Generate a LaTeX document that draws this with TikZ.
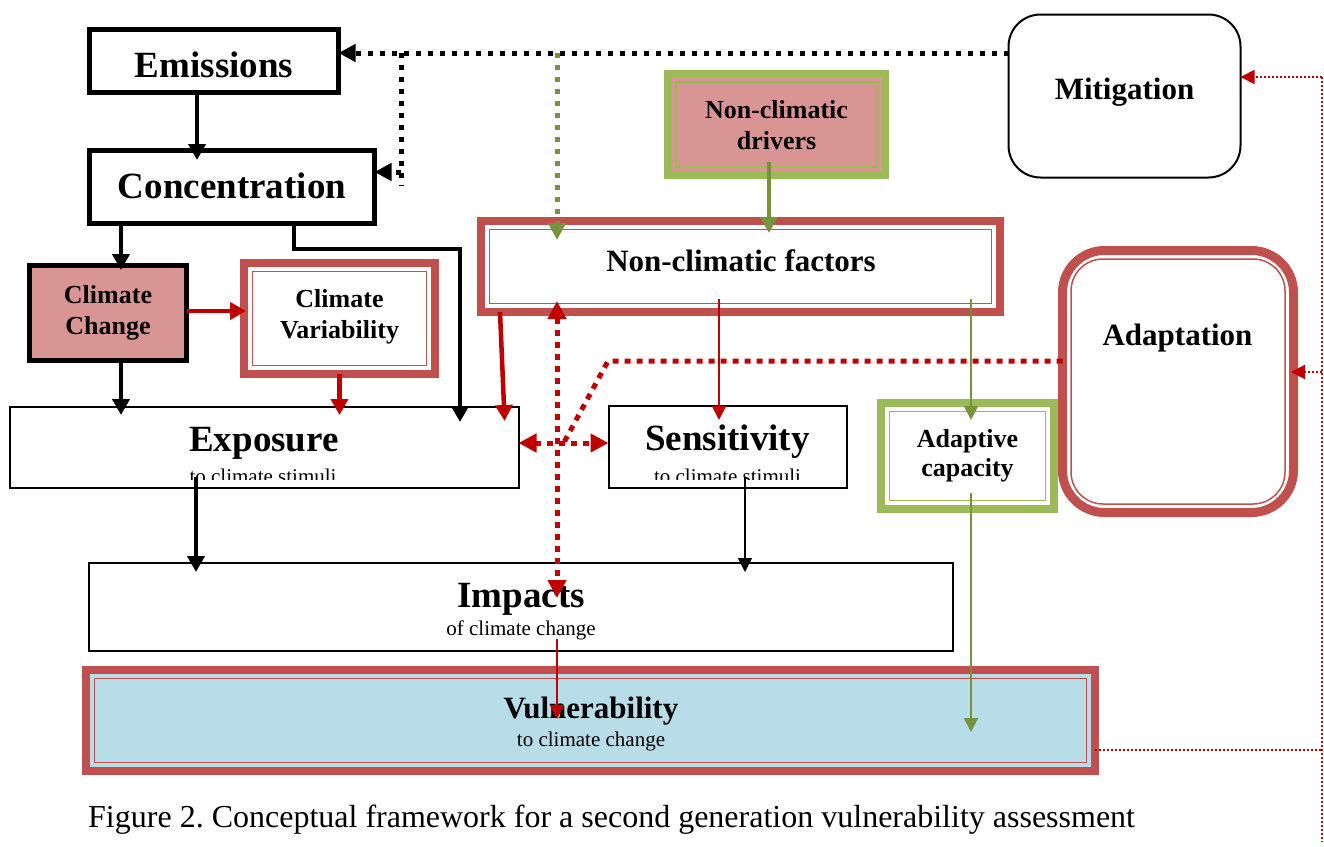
\documentclass[tikz,border=0pt]{standalone}
\usepackage{fontspec}
\setmainfont{Liberation Serif}
\usetikzlibrary{arrows.meta,calc}
\definecolor{accred}{HTML}{C0504D}
\definecolor{arrred}{HTML}{C00000}
\definecolor{pinkf}{HTML}{D99594}
\definecolor{grn}{HTML}{9BBB59}
\definecolor{olive}{HTML}{77933C}
\definecolor{lblue}{HTML}{B7DDE8}
\tikzset{
  bx/.style={rectangle, inner sep=0pt, outer sep=0pt},
  blkbox/.style={bx, draw=black, line width=#1},
  redbox/.style={bx, draw=accred, line width=8pt},
  grnbox/.style={bx, draw=grn, line width=7pt},
  big/.style={font=\fontsize{37}{40}\selectfont\bfseries, anchor=base, inner sep=0pt},
  mid/.style={font=\fontsize{31}{34}\selectfont\bfseries, anchor=base, inner sep=0pt},
  sml/.style={font=\fontsize{26}{29}\selectfont\bfseries, anchor=base, inner sep=0pt},
  sub/.style={font=\fontsize{21}{24}\selectfont, anchor=base, inner sep=0pt},
  tipk/.style={-{Triangle[length=14pt,width=14pt]}},
  tipb/.style={-{Triangle[length=16pt,width=17pt]}},
  tipd/.style={{Triangle[length=18pt,width=18pt]}-{Triangle[length=18pt,width=18pt]}},
  tipe/.style={-{Triangle[length=17pt,width=17pt]}},
  blk4/.style={draw=black, line width=4.5pt, tipb},
  blkthin/.style={draw=black, line width=1.5pt, tipk},
  red4/.style={draw=arrred, line width=4.5pt, tipb},
  redthin/.style={draw=arrred, line width=2pt, tipk},
  grn4/.style={draw=olive, line width=4.5pt, tipb},
  grnthin/.style={draw=olive, line width=2pt, tipk},
  bdot/.style={draw=black, line width=5pt, dash pattern=on 5pt off 7pt},
  rdot/.style={draw=arrred, line width=5pt, dash pattern=on 6pt off 6pt},
  gdot/.style={draw=olive, line width=5pt, dash pattern=on 5pt off 7pt},
  rfine/.style={draw=arrred, line width=2pt, dash pattern=on 2pt off 2pt},
}
\begin{document}
\begin{tikzpicture}[x=1pt,y=-1pt]
\useasboundingbox[fill=white] (0,0) rectangle (1324,846);

% ---------- boxes ----------
\node[blkbox=5pt, minimum width=249pt, minimum height=63pt] (emis) at (214,61) {};
\node[blkbox=5pt, minimum width=285pt, minimum height=73pt] (conc) at (232,187) {};
\node[blkbox=5pt, fill=pinkf, minimum width=157pt, minimum height=95pt] (cc) at (108,313) {};
\node[redbox, fill=white, minimum width=191pt, minimum height=111pt] (cv) at (339.5,318.5) {};
\draw[accred, line width=1.5pt] ([shift={(8.5pt,8.5pt)}]cv.south west) rectangle ([shift={(-8.5pt,-8.5pt)}]cv.north east);
\node[grnbox, fill=pinkf, minimum width=218pt, minimum height=102pt] (drv) at (776.5,124.5) {};
\draw[grn, line width=1.5pt] ([shift={(8.5pt,8.5pt)}]drv.south west) rectangle ([shift={(-8.5pt,-8.5pt)}]drv.north east);
\node[redbox, fill=white, minimum width=519pt, minimum height=91pt] (ncf) at (740.5,266.5) {};
\draw[accred, line width=1.5pt] ([shift={(8.5pt,8.5pt)}]ncf.south west) rectangle ([shift={(-8.5pt,-8.5pt)}]ncf.north east);
\node[blkbox=2pt, rounded corners=32pt, minimum width=232pt, minimum height=163pt] (mitig) at (1124.5,96) {};
\node[bx, draw=accred, line width=9pt, rounded corners=42pt, fill=white, minimum width=231pt, minimum height=262pt] (adapt) at (1178,381.5) {};
\draw[accred, line width=1.5pt, rounded corners=32pt] ([shift={(8.5pt,8.5pt)}]adapt.south west) rectangle ([shift={(-8.5pt,-8.5pt)}]adapt.north east);
\node[blkbox=2pt, minimum width=509pt, minimum height=81pt] (expo) at (264,447) {};
\node[blkbox=2pt, minimum width=238pt, minimum height=82pt] (sens) at (727.5,446.5) {};
\node[grnbox, line width=8pt, fill=white, minimum width=173pt, minimum height=106pt] (ac) at (967.5,456) {};
\draw[grn, line width=1.5pt] ([shift={(8.5pt,8.5pt)}]ac.south west) rectangle ([shift={(-8.5pt,-8.5pt)}]ac.north east);
\node[blkbox=2pt, minimum width=864pt, minimum height=88pt] (imp) at (520.5,606.5) {};
\node[redbox, fill=lblue, minimum width=1009pt, minimum height=101pt] (vul) at (590.5,720.5) {};
\draw[accred, line width=1.5pt] ([shift={(8.5pt,8.5pt)}]vul.south west) rectangle ([shift={(-8.5pt,-8.5pt)}]vul.north east);

% ---------- texts ----------
\node[big] (emisT) at (214,77) {Emissions};
\node[big] (concT) at (232,198) {Concentration};
\node[sml] (ccT1) at (108,303) {Climate};
\node[sml] (ccT2) at (108,334) {Change};
\node[sml] (cvT1) at (339.5,307) {Climate};
\node[sml] (cvT2) at (339.5,338) {Variability};
\node[sml] (drvT1) at (776.5,118) {Non-climatic};
\node[sml] (drvT2) at (776.5,149) {drivers};
\node[mid] (ncfT) at (741,271) {Non-climatic factors};
\node[mid] (mitT) at (1124.5,99) {Mitigation};
\node[mid] (adaT) at (1177.5,345) {Adaptation};
\node[big] (expT) at (264,451) {Exposure};
\node[big] (senT) at (727.5,450) {Sensitivity};
\begin{scope}
\clip (9,400) rectangle (847,479);
\node[sub] (expS) at (263,483) {to climate stimuli};
\node[sub] (senS) at (727.5,483) {to climate stimuli};
\end{scope}
\node[sml] (acT1) at (967.5,447) {Adaptive};
\node[sml] (acT2) at (967.5,476) {capacity};
\node[big] (impT) at (521,607) {Impacts};
\node[sub] (impS) at (521,635) {of climate change};
\node[mid] (vulT) at (591,718) {Vulnerability};
\node[sub] (vulS) at (591,746) {to climate change};
\node[font=\fontsize{32}{35}\selectfont, anchor=base west, inner sep=0pt] (cap) at (88,827) {\frenchspacing Figure 2. Conceptual framework for a second generation vulnerability assessment};

% ---------- coordinates ----------
\coordinate (b1) at (401,53);
\coordinate (b2) at (401,186);
\coordinate (b3) at (401,172);
\coordinate (g1) at (557,53);
\coordinate (e1) at (460,249);
\coordinate (d1) at (608,361);
\coordinate (d2) at (562,446);
\coordinate (r1) at (1322,77);
\coordinate (r2) at (1322,372);
\coordinate (r3) at (1322,750);
\coordinate (r4) at (1322,842);

% ---------- black connectors ----------
\draw[blk4, shorten >=-9.5pt] ([xshift=-17pt]emis.south) -- ([xshift=-35pt]conc.north);
\draw[blk4, shorten >=-4.5pt] ([xshift=-111pt]conc.south) -- ([xshift=13pt]cc.north);
\draw[blk4, shorten >=-15.5pt] ([xshift=62pt]conc.south) |- (e1) -- (e1 |- expo.north);
\draw[blk4, shorten >=-8.5pt] ([xshift=13pt]cc.south) -- ([xshift=13pt]cc.south |- expo.north);
\draw[blk4, shorten <=-10.5pt, shorten >=-9.5pt] ([xshift=-68pt]expo.south) -- ([xshift=-324.5pt]imp.north);
\draw[blkthin, shorten <=-10.5pt, shorten >=-9.5pt] ([xshift=17.5pt]sens.south) -- ([xshift=224.5pt]imp.north);

% black dotted feedback from mitigation
\draw[bdot, tipe] ([yshift=43pt]mitig.west) -- ([yshift=8pt]emis.east);
\draw[bdot] (b1) -- (b2);
\draw[bdot, tipe] (b3) -- (b3 -| conc.east);

% ---------- red connectors ----------
\draw[red4, shorten >=-2pt] ([yshift=2pt]cc.east) -- ([yshift=2pt]cc.east -| cv.west);
\draw[red4, shorten >=-8.5pt] (cv.south) -- (cv.south |- expo.north);
\draw[red4, shorten >=-14.5pt] ([xshift=-240.5pt]ncf.south) -- ([xshift=240pt]expo.north);
\draw[redthin, shorten <=-13pt, shorten >=-14.5pt] ([xshift=-21.5pt]ncf.south) -- ([xshift=-8.5pt]sens.north);
\draw[redthin, shorten <=-11.5pt, shorten >=-49pt] ([xshift=36.5pt]imp.south) -- ([xshift=-33.5pt]vul.north);

% red dotted links
\draw[rdot, tipd, shorten <=-11pt, shorten >=-35.5pt] (g1 |- ncf.south) -- (g1 |- imp.north);
\draw[rdot, tipd] ([yshift=4pt]expo.east) -- ([yshift=4pt]expo.east -| sens.west);
\draw[rdot] ([yshift=20.5pt]adapt.west) -- (d1) -- (d2);

% fine red dotted feedback from vulnerability
\draw[rfine] ([yshift=-29.5pt]vul.east) -- (r3);
\draw[rfine] (r1) -- (r4);
\draw[rfine, tipk] (r1) -- (r1 -| mitig.east);
\draw[rfine, tipk, shorten >=-2.5pt] (r2) -- (r2 -| adapt.east);

% ---------- green connectors ----------
\draw[gdot, tipe, shorten >=-19pt] (g1) -- (g1 |- ncf.north);
\draw[grn4, shorten <=-13.5pt, shorten >=-12pt] ([xshift=-7.5pt]drv.south) -- ([xshift=28.5pt]ncf.north);
\draw[grnthin, shorten <=-13pt, shorten >=-17pt] ([xshift=230.5pt]ncf.south) -- ([xshift=3.5pt]ac.north);
\draw[grnthin, shorten <=-16pt, shorten >=-62pt] ([xshift=3.5pt]ac.south) -- ([xshift=380.5pt]vul.north);
\end{tikzpicture}
\end{document}
